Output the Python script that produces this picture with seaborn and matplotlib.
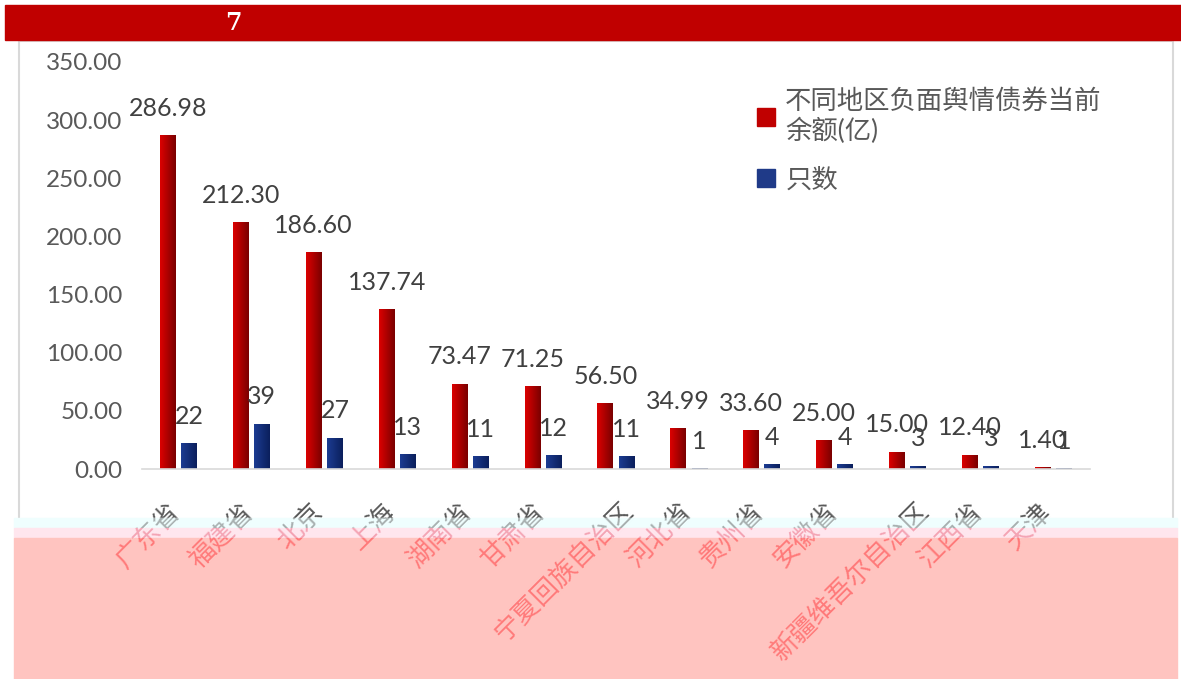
import numpy as np
import pandas as pd
import seaborn as sns
import matplotlib.pyplot as plt
from matplotlib.patches import Rectangle
from matplotlib.transforms import ScaledTranslation, Bbox, TransformedBbox
from matplotlib.colors import LinearSegmentedColormap

regions = ['广东省', '福建省', '北京', '上海', '湖南省', '甘肃省', '宁夏回族自治区',
           '河北省', '贵州省', '安徽省', '新疆维吾尔自治区', '江西省', '天津']
balance = [286.98, 212.30, 186.60, 137.74, 73.47, 71.25, 56.50,
           34.99, 33.60, 25.00, 15.00, 12.40, 1.40]
counts = [22, 39, 27, 13, 11, 12, 11, 1, 4, 4, 3, 3, 1]
series = ['不同地区负面舆情债券当前\n余额(亿)', '只数']
yticks = [0, 50, 100, 150, 200, 250, 300, 350]

df = pd.DataFrame({
    'region': regions * 2,
    'series': [series[0]] * len(regions) + [series[1]] * len(regions),
    'value': balance + counts,
})

sns.set_theme(style='white')
plt.rcParams['font.family'] = ['Lato', 'Noto Sans CJK SC', 'DejaVu Sans']

W, H = 1181, 679
fig = plt.figure(figsize=(W / 100, H / 100), dpi=100)
ax = fig.add_axes([142 / W, 1 - 469 / H, (1090 - 142) / W, (469 - 62) / H])

sns.barplot(data=df, x='region', y='value', hue='series', order=regions,
            palette=['#c00000', '#1f3a88'], width=0.58, gap=0.25, ax=ax,
            legend=False, saturation=1)

# gradient fill on bars
cmaps = [LinearSegmentedColormap.from_list('r', ['#dc0000', '#7a0000']),
         LinearSegmentedColormap.from_list('b', ['#1c3c92', '#0b1f5c'])]
grad = np.linspace(0, 1, 64).reshape(1, -1)
for cont, cm in zip(ax.containers, cmaps):
    for bar in cont:
        x, y = bar.get_x(), bar.get_y()
        w, h = bar.get_width(), bar.get_height()
        im = ax.imshow(grad, extent=[x, x + w, y, y + h], cmap=cm,
                       aspect='auto', zorder=2, interpolation='bilinear')
        im.set_clip_path(bar)
        bar.set_facecolor('none')
ax.set_aspect('auto')
ax.set_xlim(-0.5, len(regions) - 0.5)
ax.set_ylim(0, 350)

ax.bar_label(ax.containers[0], fmt='%.2f', padding=11, fontsize=18, color='#404040')
ax.bar_label(ax.containers[1], fmt='%d', padding=11, fontsize=18, color='#404040')

ax.set_yticks(yticks)
ax.set_yticklabels([f'{v:.2f}' for v in yticks], fontsize=17.5, color='#595959')
ax.tick_params(axis='y', length=0, pad=14)
ax.tick_params(axis='x', length=0, pad=0)
ax.set_xlabel('')
ax.set_ylabel('')
for s in ['top', 'left', 'right']:
    ax.spines[s].set_visible(False)
ax.spines['bottom'].set_color('#d9d9d9')
ax.spines['bottom'].set_linewidth(1.2)

ax.set_xticks(range(len(regions)))
ax.set_xticklabels([])
lab_kw = dict(rotation=45, ha='right', va='top', rotation_mode='anchor',
              fontsize=19, family=['Noto Sans CJK SC'])


def label_tf(r):
    # longer names sit a little further right, as in the original
    dx = -11.5 + 4 * (len(r) - 3)
    return ax.get_xaxis_transform() + ScaledTranslation(dx / 100, -29 / 100, fig.dpi_scale_trans)


for i, r in enumerate(regions):
    ax.text(i, 0, r, transform=label_tf(r), color='#595959', **lab_kw)

handles = [Rectangle((0, 0), 1, 1, color=c) for c in ['#c00000', '#1f3a88']]
ax.legend(handles, series, loc='upper left', bbox_to_anchor=(733 / W, 1 - 65 / H),
          bbox_transform=fig.transFigure, frameon=False, fontsize=19,
          handlelength=0.68, handleheight=0.68, handletextpad=0.4,
          labelspacing=0.87, labelcolor='#595959')

# header bar, frame
fig.patches.append(Rectangle((5 / W, 1 - 40 / H), 1 - 5 / W, 35 / H, transform=fig.transFigure,
                             color='#c00000', zorder=1))
fig.text(233 / W, 1 - 23 / H, '7', color='white', fontsize=17, fontweight='bold',
         ha='center', va='center', family=['DejaVu Serif'])
fig.patches.append(Rectangle((19 / W, 1 - 530 / H), (1173 - 19) / W, (530 - 41) / H,
                             transform=fig.transFigure, fill=False, edgecolor='#d9d9d9',
                             linewidth=1.5, zorder=0))

# pink overlay bands at the bottom
bands = [(518, 528, '#effefe', '#a8b0b0'), (528, 538, '#ffe6ee', '#f4a4b4'),
         (538, H, '#ffc4c0', '#ff7a7a')]
for top, bot, fc, tc in bands:
    fig.patches.append(Rectangle((14 / W, 1 - bot / H), (1177 - 14) / W, (bot - top) / H,
                                 transform=fig.transFigure, color=fc, zorder=5))
    clip = TransformedBbox(Bbox.from_extents(14 / W, 1 - bot / H, 1177 / W, 1 - top / H),
                           fig.transFigure)
    for i, r in enumerate(regions):
        t = fig.text(i, 0, r, transform=label_tf(r), color=tc, zorder=6, **lab_kw)
        t.set_clip_box(clip)
        t.set_clip_on(True)

fig.savefig('out.png', dpi=100)
